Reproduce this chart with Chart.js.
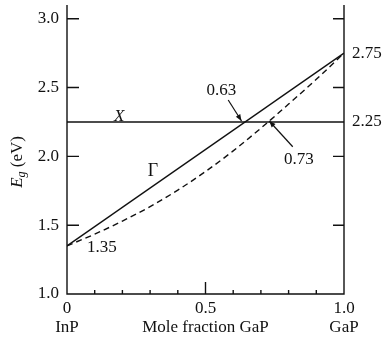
<!DOCTYPE html>
<html>
<head>
<meta charset="utf-8">
<script src="https://cdn.jsdelivr.net/npm/chart.js@4.4.1/dist/chart.umd.min.js"></script>
<style>
  html, body { margin: 0; padding: 0; background: #fff; }
  #wrap { width: 384px; height: 351px; }
</style>
</head>
<body>
<div id="wrap"><canvas id="c" width="384" height="351"></canvas></div>
<script>
// Band gap of InP–GaP alloys versus GaP mole fraction
const gammaX = [0, 1.0];
const gammaE = [1.35, 2.75];

const xValleyX = [0, 1.0];
const xValleyE = [2.25, 2.25];

// Measured (bowed) gap, dashed
const bowedX = [0, 0.1, 0.2, 0.3, 0.4, 0.5, 0.6, 0.7, 0.8, 0.9, 1.0];
const bowedE = [1.35, 1.435, 1.53, 1.635, 1.755, 1.89, 2.04, 2.205, 2.38, 2.56, 2.75];

const leftTickValues = [1.0, 1.5, 2.0, 2.5, 3.0];
const rightTickValues = [2.25, 2.75];
const xTickValues = [0, 0.5, 1.0];
const xTickLabels = ['0', '0.5', '1.0'];
const xMinorTicks = [0.1, 0.2, 0.3, 0.4, 0.5, 0.6, 0.7, 0.8, 0.9];
const innerYTicks = [1.5, 2.0, 2.5, 3.0];

const crossings = [
  { text: '0.63', at: 0.63, label: [0.557, 2.475], tail: [0.582, 2.41] },
  { text: '0.73', at: 0.73, label: [0.837, 1.975], tail: [0.815, 2.07] }
];

const SERIF = '"Liberation Serif", "DejaVu Serif", serif';
const INK = '#111';
const FS = 17;
const LW = 1.4;

const pts = (xs, ys) => xs.map((x, i) => ({ x: x, y: ys[i] }));

const decorations = {
  id: 'decorations',
  afterDatasetsDraw(chart) {
    const { ctx, chartArea: a, scales } = chart;
    const xs = scales.x, ys = scales.y;
    ctx.save();
    ctx.strokeStyle = INK;
    ctx.fillStyle = INK;
    ctx.lineWidth = LW;

    // frame: left, bottom, right
    ctx.beginPath();
    ctx.moveTo(a.left, a.top);
    ctx.lineTo(a.left, a.bottom);
    ctx.lineTo(a.right, a.bottom);
    ctx.lineTo(a.right, a.top);
    ctx.stroke();

    // inward ticks on both vertical axes
    innerYTicks.forEach(v => {
      const py = ys.getPixelForValue(v);
      ctx.beginPath();
      ctx.moveTo(a.left, py); ctx.lineTo(a.left + 12, py);
      ctx.moveTo(a.right, py); ctx.lineTo(a.right - 11, py);
      ctx.stroke();
    });
    // upward ticks on the bottom axis
    xMinorTicks.forEach(v => {
      const px = xs.getPixelForValue(v);
      const len = Math.abs(v - 0.5) < 1e-9 ? 12 : 4;
      ctx.beginPath();
      ctx.moveTo(px, a.bottom); ctx.lineTo(px, a.bottom - len);
      ctx.stroke();
    });

    // curve labels
    ctx.textAlign = 'center';
    ctx.textBaseline = 'middle';
    ctx.font = 'italic ' + FS + 'px ' + SERIF;
    ctx.fillText('X', xs.getPixelForValue(0.188), ys.getPixelForValue(2.29));
    ctx.font = (FS + 1) + 'px ' + SERIF;
    ctx.fillText('Γ', xs.getPixelForValue(0.31), ys.getPixelForValue(1.89));
    ctx.font = FS + 'px ' + SERIF;
    ctx.fillText('1.35', xs.getPixelForValue(0.126), ys.getPixelForValue(1.34));

    // crossing markers with arrows
    crossings.forEach(c => {
      ctx.fillText(c.text, xs.getPixelForValue(c.label[0]), ys.getPixelForValue(c.label[1]));
      const x0 = xs.getPixelForValue(c.tail[0]), y0 = ys.getPixelForValue(c.tail[1]);
      const x1 = xs.getPixelForValue(c.at), y1 = ys.getPixelForValue(xValleyE[0]) - 1;
      ctx.lineWidth = 1.2;
      ctx.beginPath(); ctx.moveTo(x0, y0); ctx.lineTo(x1, y1); ctx.stroke();
      const ang = Math.atan2(y1 - y0, x1 - x0), L = 7, W = 0.38;
      ctx.beginPath();
      ctx.moveTo(x1, y1);
      ctx.lineTo(x1 - L * Math.cos(ang - W), y1 - L * Math.sin(ang - W));
      ctx.lineTo(x1 - L * Math.cos(ang + W), y1 - L * Math.sin(ang + W));
      ctx.closePath(); ctx.fill();
    });

    // bottom captions
    const capY = 328;
    ctx.font = FS + 'px ' + SERIF;
    ctx.fillText('InP', xs.getPixelForValue(0), capY);
    ctx.fillText('Mole fraction GaP', xs.getPixelForValue(0.5), capY);
    ctx.fillText('GaP', xs.getPixelForValue(1.0), capY);

    // vertical axis title: E_g (eV)
    const cy = ys.getPixelForValue(1.96);
    ctx.translate(16, cy);
    ctx.rotate(-Math.PI / 2);
    ctx.textAlign = 'left';
    ctx.textBaseline = 'alphabetic';
    ctx.font = 'italic ' + FS + 'px ' + SERIF;
    const wE = ctx.measureText('E').width;
    ctx.font = 'italic 12px ' + SERIF;
    const wg = ctx.measureText('g').width;
    ctx.font = FS + 'px ' + SERIF;
    const wRest = ctx.measureText(' (eV)').width;
    let x = -(wE + wg + wRest) / 2;
    const base = 6;
    ctx.font = 'italic ' + FS + 'px ' + SERIF;
    ctx.fillText('E', x, base); x += wE;
    ctx.font = 'italic 12px ' + SERIF;
    ctx.fillText('g', x, base + 3); x += wg;
    ctx.font = FS + 'px ' + SERIF;
    ctx.fillText(' (eV)', x, base);
    ctx.restore();
  }
};

const tickFont = { family: SERIF, size: FS };
const noPad = s => { s.paddingTop = 0; s.paddingBottom = 0; s.paddingLeft = 0; s.paddingRight = 0; };

new Chart(document.getElementById('c'), {
  type: 'line',
  data: {
    datasets: [
      { label: 'Γ', data: pts(gammaX, gammaE), borderColor: INK, borderWidth: LW, pointRadius: 0, tension: 0 },
      { label: 'X', data: pts(xValleyX, xValleyE), borderColor: INK, borderWidth: LW, pointRadius: 0, tension: 0 },
      { label: 'measured', data: pts(bowedX, bowedE), borderColor: INK, borderWidth: LW, borderDash: [6, 4], pointRadius: 0, cubicInterpolationMode: 'monotone' }
    ]
  },
  options: {
    responsive: false,
    animation: false,
    events: [],
    layout: { padding: { top: 5, left: 0, right: 0, bottom: 0 } },
    plugins: { legend: { display: false }, tooltip: { enabled: false } },
    scales: {
      x: {
        type: 'linear', min: 0, max: 1.0,
        grid: { display: false, drawTicks: false },
        border: { display: false },
        afterBuildTicks: s => { s.ticks = xTickValues.map(v => ({ value: v })); },
        afterFit: s => { s.height = 57; noPad(s); },
        ticks: {
          color: INK, font: tickFont, padding: 4, maxRotation: 0, autoSkip: false,
          callback: v => xTickLabels[xTickValues.indexOf(v)]
        }
      },
      y: {
        type: 'linear', position: 'left', min: 1.0, max: 3.1,
        grid: { display: false, drawTicks: false },
        border: { display: false },
        afterBuildTicks: s => { s.ticks = leftTickValues.map(v => ({ value: v })); },
        afterFit: s => { s.width = 67; noPad(s); },
        ticks: { color: INK, font: tickFont, padding: 8, autoSkip: false, callback: v => v.toFixed(1) }
      },
      y2: {
        type: 'linear', position: 'right', min: 1.0, max: 3.1,
        grid: { display: false, drawTicks: false },
        border: { display: false },
        afterBuildTicks: s => { s.ticks = rightTickValues.map(v => ({ value: v })); },
        afterFit: s => { s.width = 40; noPad(s); },
        ticks: { color: INK, font: tickFont, padding: 8, autoSkip: false, callback: v => v.toFixed(2) }
      }
    }
  },
  plugins: [decorations]
});
</script>
</body>
</html>
